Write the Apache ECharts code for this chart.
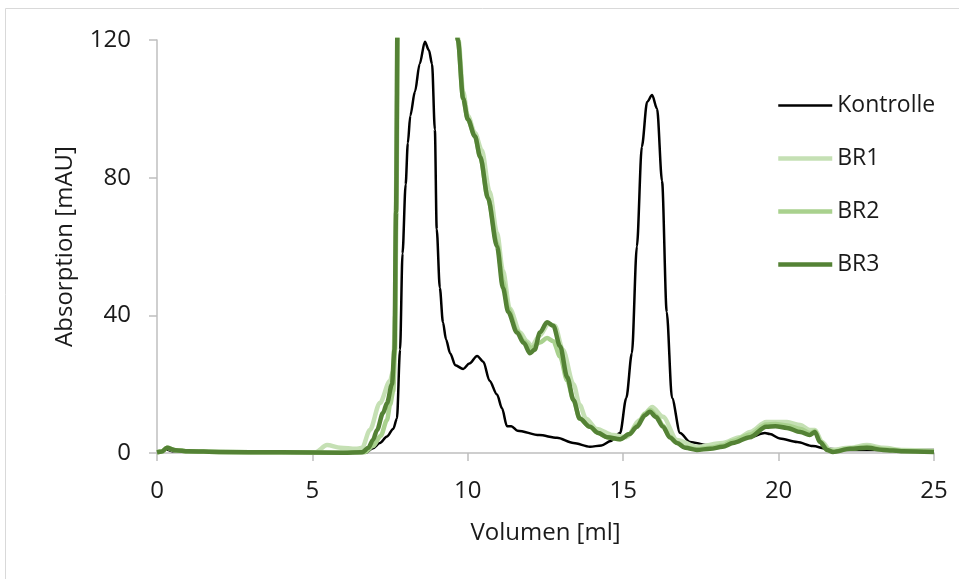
<!DOCTYPE html>
<html>
<head>
<meta charset="utf-8">
<script src="https://cdn.jsdelivr.net/npm/echarts@6/dist/echarts.min.js"></script>
<style>
  html, body { margin: 0; padding: 0; background: #fff; }
  #chart { width: 959px; height: 579px; }
</style>
</head>
<body>
<div id="chart"></div>
<script>
// Volumen [ml] / Absorption [mAU]
const kontrolle = [
  [0, 0.2], [0.15, 0.3], [0.3, 1.0], [0.5, 0.5], [1, 0.3], [2, 0.1], [4, 0], [6, 0],
  [6.7, 0], [6.95, 1.4], [7.17, 2.9], [7.4, 4.8], [7.6, 7], [7.72, 10], [7.82, 30],
  [7.9, 58], [8.0, 78], [8.07, 90], [8.15, 98], [8.3, 105], [8.45, 113], [8.62, 119.5],
  [8.75, 117], [8.85, 113], [8.94, 94], [9.0, 65], [9.1, 48], [9.2, 38], [9.3, 33],
  [9.43, 29], [9.6, 25.5], [9.85, 24.4], [10.05, 26], [10.3, 28.2], [10.5, 26.5],
  [10.7, 21], [10.94, 17], [11.1, 13], [11.26, 7.8], [11.4, 7.8], [11.6, 6.5],
  [12.3, 5.2], [12.87, 4.4], [13.4, 2.9], [13.93, 1.8], [14.3, 2.2], [14.6, 3.5],
  [14.9, 5.8], [15.1, 16], [15.28, 29], [15.44, 60], [15.6, 89], [15.77, 102],
  [15.93, 104], [16.09, 100], [16.25, 79], [16.4, 41], [16.57, 16], [16.83, 5.8],
  [17.15, 3.2], [17.7, 2.3], [18.2, 2.9], [18.53, 3.8], [19.08, 4.6], [19.56, 5.8],
  [19.72, 5.5], [20.04, 4.2], [20.6, 3.2], [21.1, 2], [21.56, 1.2], [22.3, 0.9], [25, 0.9]
];

const br1 = [
  [0, 0.2], [0.15, 0.4], [0.32, 1.5], [0.6, 0.8], [1, 0.5], [2, 0.3], [4, 0.2], [5.1, 0.2],
  [5.47, 2.3], [5.9, 1.5], [6.4, 1.2], [6.6, 1.5], [6.85, 6.7], [7.17, 14.5], [7.5, 21],
  [7.6, 24], [7.66, 40], [7.7, 80], [7.75, 140], [7.85, 260], [8.5, 400], [9.2, 300],
  [9.5, 165], [9.7, 120], [9.85, 105], [10.0, 98], [10.23, 93], [10.45, 88], [10.7, 76],
  [10.94, 64], [11.13, 53], [11.35, 42], [11.68, 35], [11.9, 32.5], [12.05, 31],
  [12.3, 34], [12.6, 37.5], [12.8, 37], [13.06, 30], [13.4, 20], [13.6, 14], [13.8, 10],
  [14.15, 7], [14.67, 5.2], [15.1, 4.6], [15.54, 9.6], [15.93, 13.4], [16.28, 10.5],
  [16.73, 3.8], [17.37, 1.8], [18.2, 2.9], [18.76, 4.6], [19.08, 6.1], [19.6, 9],
  [20.27, 9], [20.7, 8.1], [21.0, 6.7], [21.17, 6.7], [21.4, 3.2], [21.65, 0.9],
  [22.3, 1.5], [22.84, 2.3], [23.36, 1.5], [24, 0.9], [25, 0.6]
];

const br2 = [
  [0, 0.2], [0.15, 0.4], [0.32, 1.5], [0.6, 0.8], [1, 0.5], [2, 0.3], [4, 0.2], [6, 0.1],
  [6.7, 0.3], [6.95, 2], [7.2, 5], [7.4, 9.6], [7.5, 14], [7.6, 18], [7.66, 30],
  [7.7, 70], [7.76, 140], [7.85, 260], [8.5, 400], [9.2, 300], [9.5, 160], [9.68, 120],
  [9.85, 103], [10.0, 97], [10.23, 92], [10.4, 86], [10.65, 74], [10.94, 61], [11.13, 50],
  [11.3, 42], [11.58, 35.5], [11.8, 32.5], [12.05, 30.5], [12.3, 32], [12.55, 33.4],
  [12.75, 32.5], [12.97, 28], [13.2, 21], [13.4, 15.4], [13.6, 10], [13.93, 7.6],
  [14.2, 5.8], [14.48, 4.6], [14.9, 4], [15.2, 5.5], [15.44, 8], [15.7, 11.5],
  [15.88, 12.5], [16.05, 11], [16.28, 8], [16.5, 4.8], [16.73, 3], [17.0, 1.6],
  [17.37, 1.1], [17.8, 1.5], [18.2, 2.2], [18.53, 3.5], [19.08, 5.4], [19.6, 8.3],
  [19.9, 8.4], [20.27, 8], [20.7, 7], [21.0, 5.8], [21.17, 6.3], [21.35, 3.2],
  [21.6, 0.9], [21.8, 0.5], [22.3, 1.3], [22.84, 1.8], [23.36, 1.1], [24, 0.6], [25, 0.4]
];

const br3 = [
  [0, 0.2], [0.15, 0.4], [0.32, 1.5], [0.6, 0.8], [1, 0.5], [2, 0.3], [4, 0.2], [6, 0.1],
  [6.6, 0.2], [6.8, 1.5], [6.95, 3.8], [7.08, 6.7], [7.27, 11.6], [7.4, 14.5], [7.56, 20],
  [7.64, 30], [7.69, 70], [7.75, 140], [7.85, 260], [8.5, 400], [9.2, 300], [9.5, 160],
  [9.68, 120], [9.85, 103], [10.0, 97], [10.23, 92], [10.4, 86], [10.65, 74], [10.94, 60],
  [11.13, 48], [11.3, 41], [11.58, 35], [11.8, 32], [12.0, 29], [12.15, 30], [12.32, 35],
  [12.55, 38], [12.75, 37], [12.97, 31], [13.2, 22], [13.4, 15.4], [13.6, 10], [13.93, 7.6],
  [14.2, 5.8], [14.48, 4.6], [14.9, 4], [15.2, 5.5], [15.44, 7.6], [15.7, 11], [15.86, 12],
  [16.05, 10.5], [16.28, 7.6], [16.5, 4.5], [16.73, 2.9], [17.0, 1.5], [17.37, 0.9],
  [17.8, 1.2], [18.2, 1.8], [18.53, 2.9], [19.08, 4.6], [19.6, 7.6], [19.9, 7.8],
  [20.27, 7.3], [20.7, 6.1], [21.0, 5.2], [21.17, 6.1], [21.33, 3.2], [21.56, 0.9],
  [21.75, 0.3], [22.3, 1.2], [22.84, 1.5], [23.36, 0.9], [24, 0.5], [25, 0.3]
];

const seriesNames = ["Kontrolle", "BR1", "BR2", "BR3"];
const seriesColors = ["#000000", "#c5e0b4", "#a9d18e", "#548235"];
const seriesWidths = [2.5, 4.5, 4.5, 4.5];
const seriesData = [kontrolle, br1, br2, br3];

const font = "'Open Sans', 'Noto Sans', sans-serif";
const textColor = "#1a1a1a";
const chart = echarts.init(document.getElementById("chart"));

chart.setOption({
  animation: false,
  textStyle: { fontFamily: font },
  graphic: [
    {
      type: "rect",
      shape: { x: 5.5, y: 8.5, width: 1000, height: 1000 },
      style: { fill: "none", stroke: "#d9d9d9", lineWidth: 1 },
      silent: true
    }
  ],
  grid: { left: 157, right: 25, top: 40, bottom: 126 },
  legend: {
    orient: "vertical",
    left: 771,
    top: 89,
    itemWidth: 54,
    itemHeight: 25,
    itemGap: 30,
    itemStyle: { opacity: 0 },
    textStyle: { fontSize: 23, color: textColor, fontFamily: font },
    data: seriesNames.map((n, i) => ({
      name: n,
      lineStyle: { color: seriesColors[i], width: seriesWidths[i] }
    }))
  },
  xAxis: {
    type: "value",
    min: 0,
    max: 25,
    interval: 5,
    name: "Volumen [ml]",
    nameLocation: "middle",
    nameGap: 68,
    nameTextStyle: { fontSize: 24, color: textColor },
    axisLine: { lineStyle: { color: "#bfbfbf", width: 1.5 } },
    axisTick: { show: true, length: 8, lineStyle: { color: "#bfbfbf", width: 1.5 } },
    axisLabel: { fontSize: 24, color: textColor, margin: 26 },
    splitLine: { show: false }
  },
  yAxis: {
    type: "value",
    min: 0,
    max: 120,
    interval: 40,
    name: "Absorption [mAU]",
    nameLocation: "middle",
    nameGap: 80,
    nameTextStyle: { fontSize: 24, color: textColor },
    axisLine: { show: true, lineStyle: { color: "#bfbfbf", width: 1.5 } },
    axisTick: { show: true, length: 8, lineStyle: { color: "#bfbfbf", width: 1.5 } },
    axisLabel: { fontSize: 24, color: textColor, margin: 26 },
    splitLine: { show: false }
  },
  series: seriesData.map((d, i) => ({
    name: seriesNames[i],
    type: "line",
    data: d,
    symbol: "none",
    smooth: 0.3,
    smoothMonotone: "x",
    clip: true,
    color: seriesColors[i],
    lineStyle: { color: seriesColors[i], width: seriesWidths[i] }
  }))
});
</script>
</body>
</html>
